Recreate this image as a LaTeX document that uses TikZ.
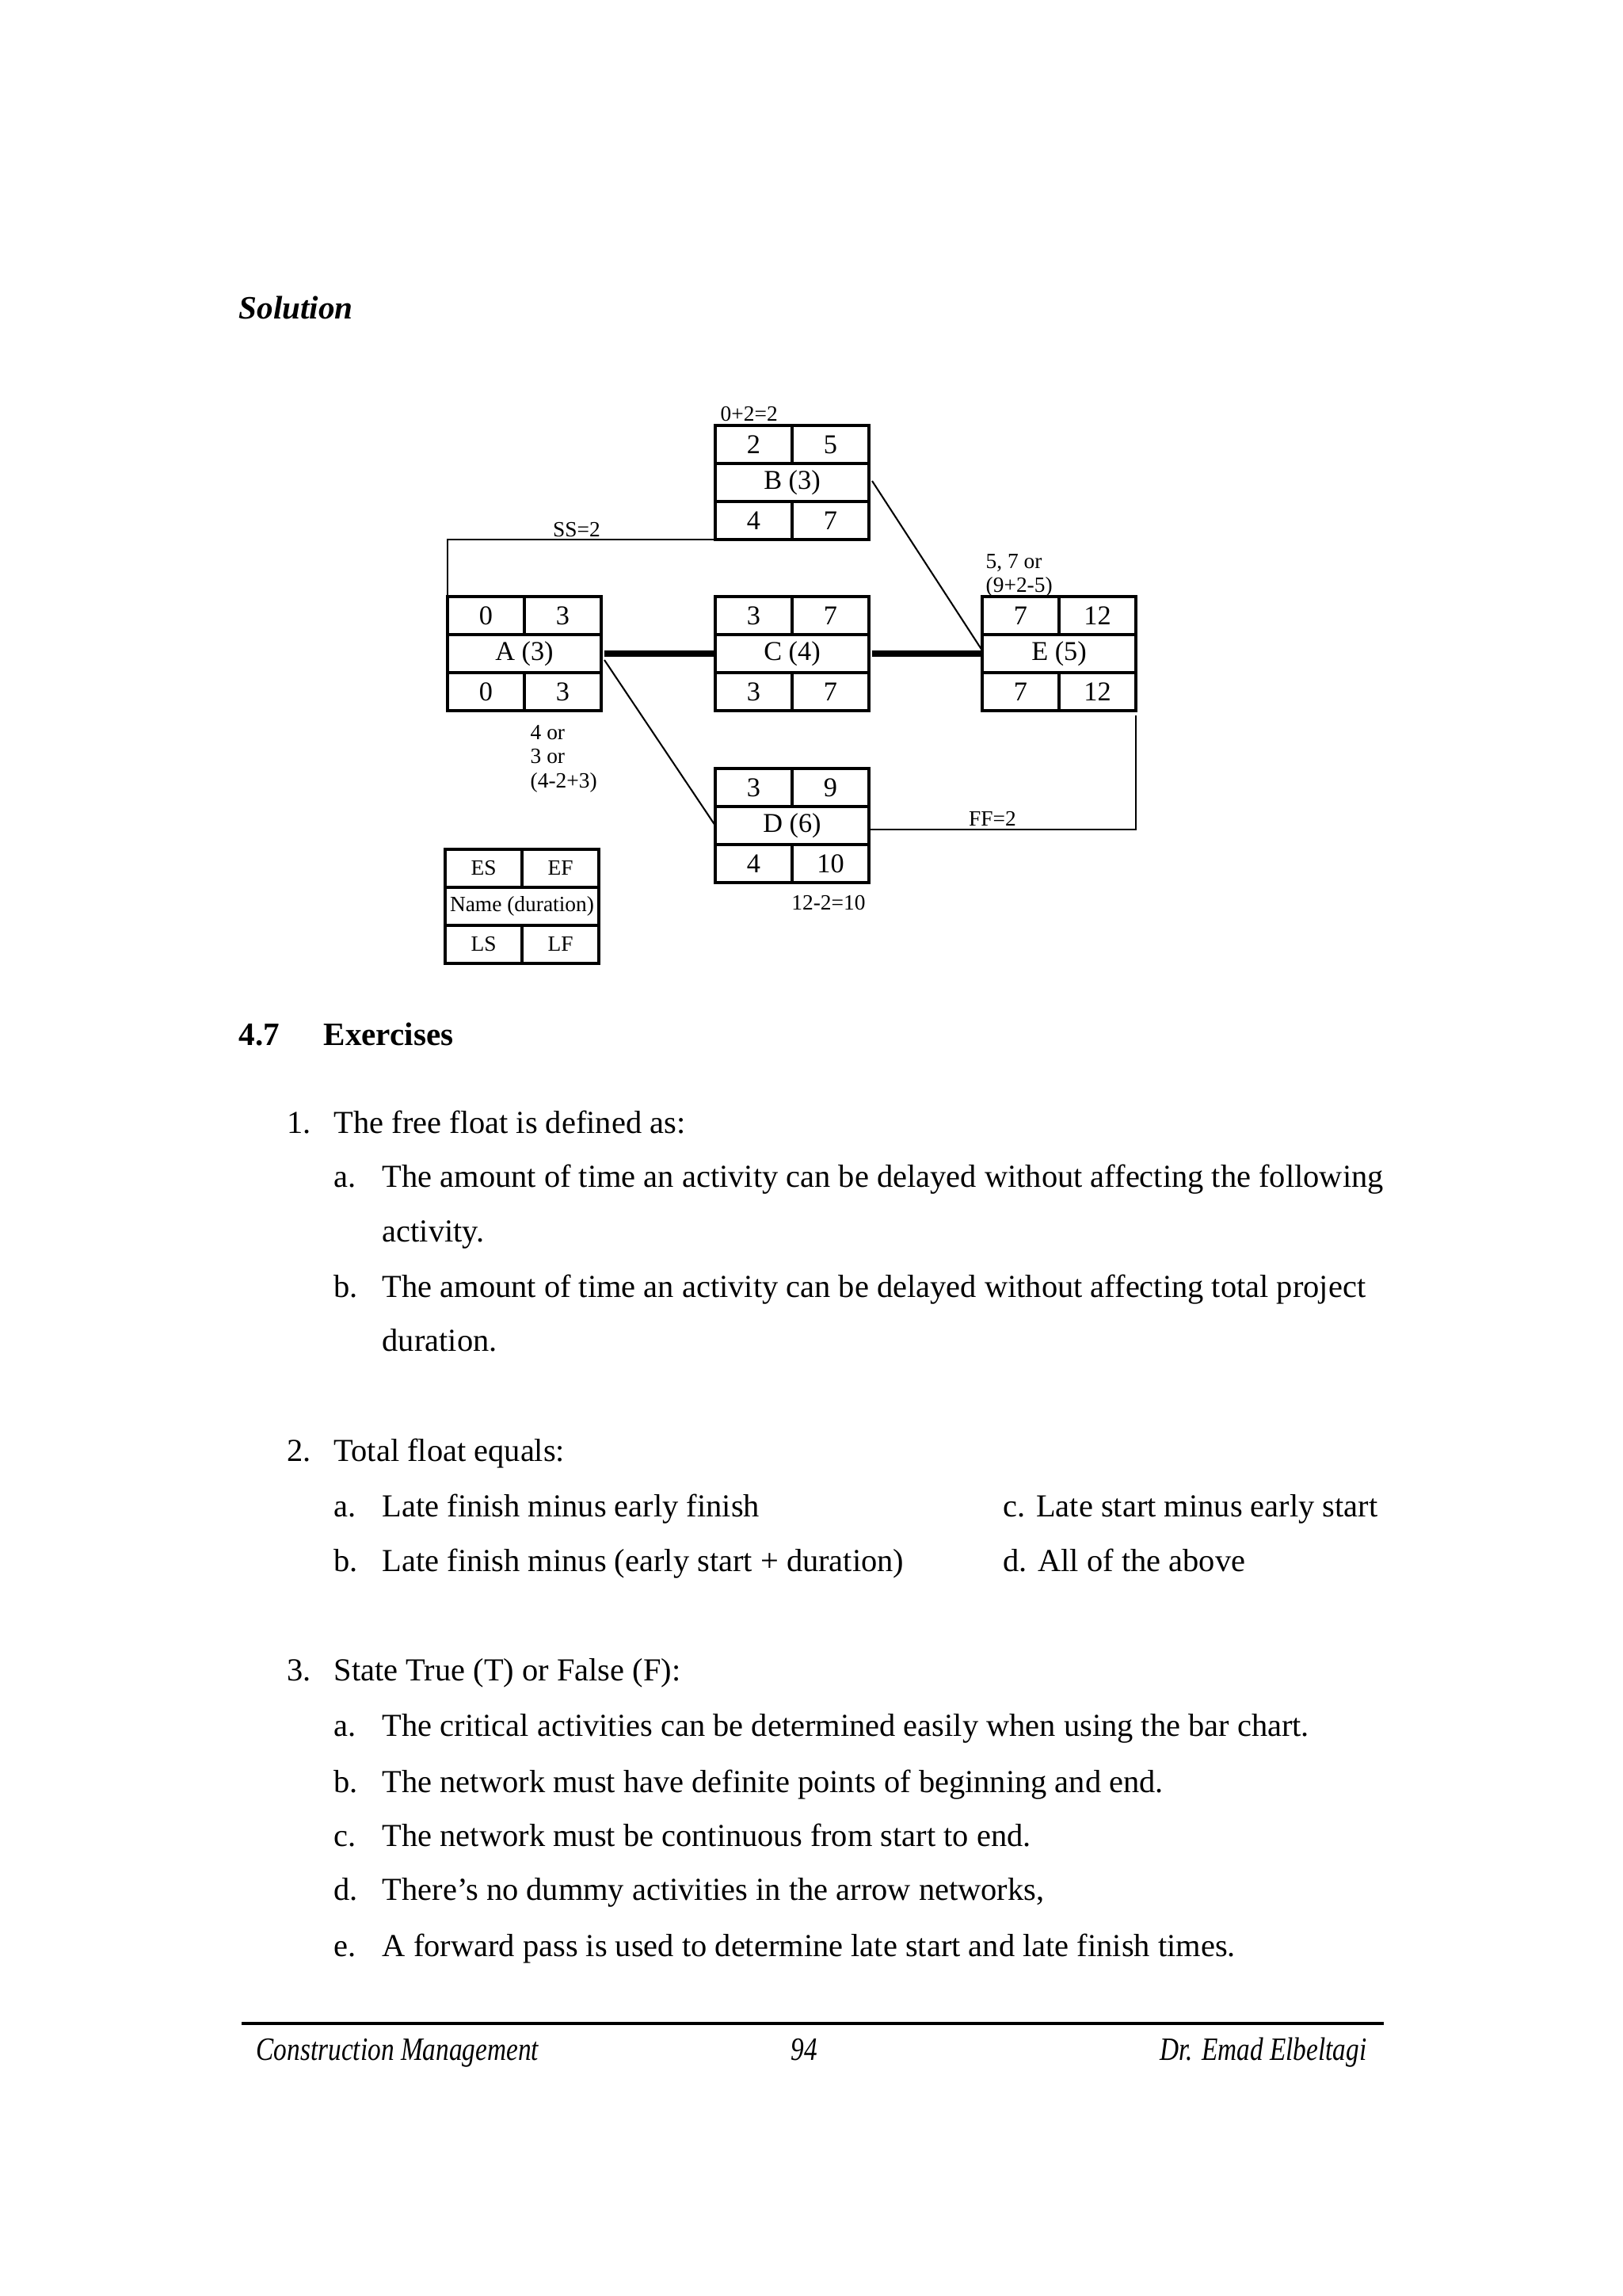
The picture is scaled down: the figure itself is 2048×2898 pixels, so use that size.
\documentclass[tikz,border=0pt]{standalone}
\usepackage{fontspec}
\setmainfont{Liberation Serif}
\usetikzlibrary{calc}
\def\px{0.0102539cm}
\tikzset{
 cell/.style={draw, line width=0.9pt, inner sep=0pt, outer sep=0pt, minimum width=97*\px, minimum height=48*\px, font=\fontsize{10}{12}\selectfont},
 cellfull/.style={cell, minimum width=194*\px},
 small/.style={font=\fontsize{8}{9}\selectfont},
 lbl/.style={inner sep=0pt, font=\fontsize{8}{8.8}\selectfont},
 link/.style={line width=0.6pt},
 crit/.style={line width=2.4pt},
 body/.style={inner sep=0pt, anchor=base west, font=\fontsize{11.8}{14}\selectfont},
 foot/.style={inner sep=0pt, anchor=base, font=\fontsize{12}{14}\selectfont\itshape},
}
\newcommand\actbox[8]{%
 \begin{scope}[shift={#2}]
  \node[cell,#8,anchor=north west] (#1-es) at (0,0) {#3};
  \node[cell,#8,anchor=north west] (#1-ef) at (97,0) {#4};
  \node[cellfull,#8,anchor=north west] (#1) at (0,48) {#5};
  \node[cell,#8,anchor=north west] (#1-ls) at (0,96) {#6};
  \node[cell,#8,anchor=north west] (#1-lf) at (97,96) {#7};
 \end{scope}}
\begin{document}
\begin{tikzpicture}[x=\px, y=-\px]
\useasboundingbox[fill=white] (0,0) rectangle (2048,2898);

% heading
\node[body, font=\fontsize{12}{14}\selectfont\bfseries\itshape] (sol) at (301,402) {Solution};

% activity boxes
\actbox{A}{(565,753)}{0}{3}{A (3)}{0}{3}{}
\actbox{B}{(903,537)}{2}{5}{B (3)}{4}{7}{}
\actbox{C}{(903,753)}{3}{7}{C (4)}{3}{7}{}
\actbox{D}{(903,970)}{3}{9}{D (6)}{4}{10}{}
\actbox{E}{(1240,753)}{7}{12}{E (5)}{7}{12}{}
\actbox{L}{(562,1072)}{ES}{EF}{Name (duration)}{LS}{LF}{small}

% connectors
\draw[link] (A-es.north west) |- (B-ls.south west);
\draw[crit] ([xshift=4*\px]A.east) -- (C.west);
\draw[crit] ([xshift=4*\px]C.east) -- (E.west);
\draw[link] ([xshift=4*\px,yshift=-8*\px]A.east) -- (D.west);
\draw[link] ([xshift=4*\px,yshift=2*\px]B.east) -- ([yshift=4*\px]E.west);
\coordinate (ffend) at ([yshift=-6*\px]E-lf.south east);
\draw[link] ([yshift=-5*\px]D.east) -| (ffend);

% labels
\node[lbl, anchor=base west] (l1) at (909,531) {0+2=2};
\node[lbl, anchor=base] (l2) at (728,677) {SS=2};
\node[lbl, anchor=north west, align=left] (l3) at (1244,699) {5, 7 or\\(9+2-5)};
\node[lbl, anchor=north west, align=left] (l4) at (669,915) {4 or\\3 or\\(4-2+3)};
\node[lbl, anchor=base] (l5) at (1253,1042) {FF=2};
\node[lbl, anchor=base] (l6) at (1046,1148) {12-2=10};

% exercises
\node[body, font=\fontsize{12}{14}\selectfont\bfseries] (sec) at (301,1319) {4.7};
\node[body, font=\fontsize{12}{14}\selectfont\bfseries] (sect) at (408,1319) {Exercises};

\node[body] (n1) at (362,1430) {1.};
\node[body] (t1) at (421,1430) {The free float is defined as:};
\node[body] (n1a) at (421,1498) {a.};
\node[body] (t1a) at (482,1498) {The amount of time an activity can be delayed without affecting the following};
\node[body] (t1a2) at (482,1567) {activity.};
\node[body] (n1b) at (421,1637) {b.};
\node[body] (t1b) at (482,1637) {The amount of time an activity can be delayed without affecting total project};
\node[body] (t1b2) at (482,1705) {duration.};

\node[body] (n2) at (362,1844) {2.};
\node[body] (t2) at (421,1844) {Total float equals:};
\node[body] (n2a) at (421,1914) {a.};
\node[body] (t2a) at (482,1914) {Late finish minus early finish};
\node[body] (n2b) at (421,1983) {b.};
\node[body] (t2b) at (482,1983) {Late finish minus (early start + duration)};
\node[body] (t2c) at (1266,1914) {c. Late start minus early start};
\node[body] (t2d) at (1266,1983) {d. All of the above};

\node[body] (n3) at (362,2121) {3.};
\node[body] (t3) at (421,2121) {State True (T) or False (F):};
\node[body] (n3a) at (421,2191) {a.};
\node[body] (t3a) at (482,2191) {The critical activities can be determined easily when using the bar chart.};
\node[body] (n3b) at (421,2262) {b.};
\node[body] (t3b) at (482,2262) {The network must have definite points of beginning and end.};
\node[body] (n3c) at (421,2330) {c.};
\node[body] (t3c) at (482,2330) {The network must be continuous from start to end.};
\node[body] (n3d) at (421,2398) {d.};
\node[body] (t3d) at (482,2398) {There’s no dummy activities in the arrow networks,};
\node[body] (n3e) at (421,2469) {e.};
\node[body] (t3e) at (482,2469) {A forward pass is used to determine late start and late finish times.};

% footer
\coordinate (fl) at (305,2554);
\coordinate (fr) at (1747,2554);
\draw[line width=0.9pt] (fl) -- (fr);
\node[foot, anchor=base west] (f1) at (323,2600) {\scalebox{0.81}[1]{Construction Management}};
\node[foot] (f2) at (1015,2600) {\scalebox{0.81}[1]{94}};
\node[foot, anchor=base east] (f3) at (1726,2600) {\scalebox{0.81}[1]{Dr. Emad Elbeltagi}};
\end{tikzpicture}
\end{document}
